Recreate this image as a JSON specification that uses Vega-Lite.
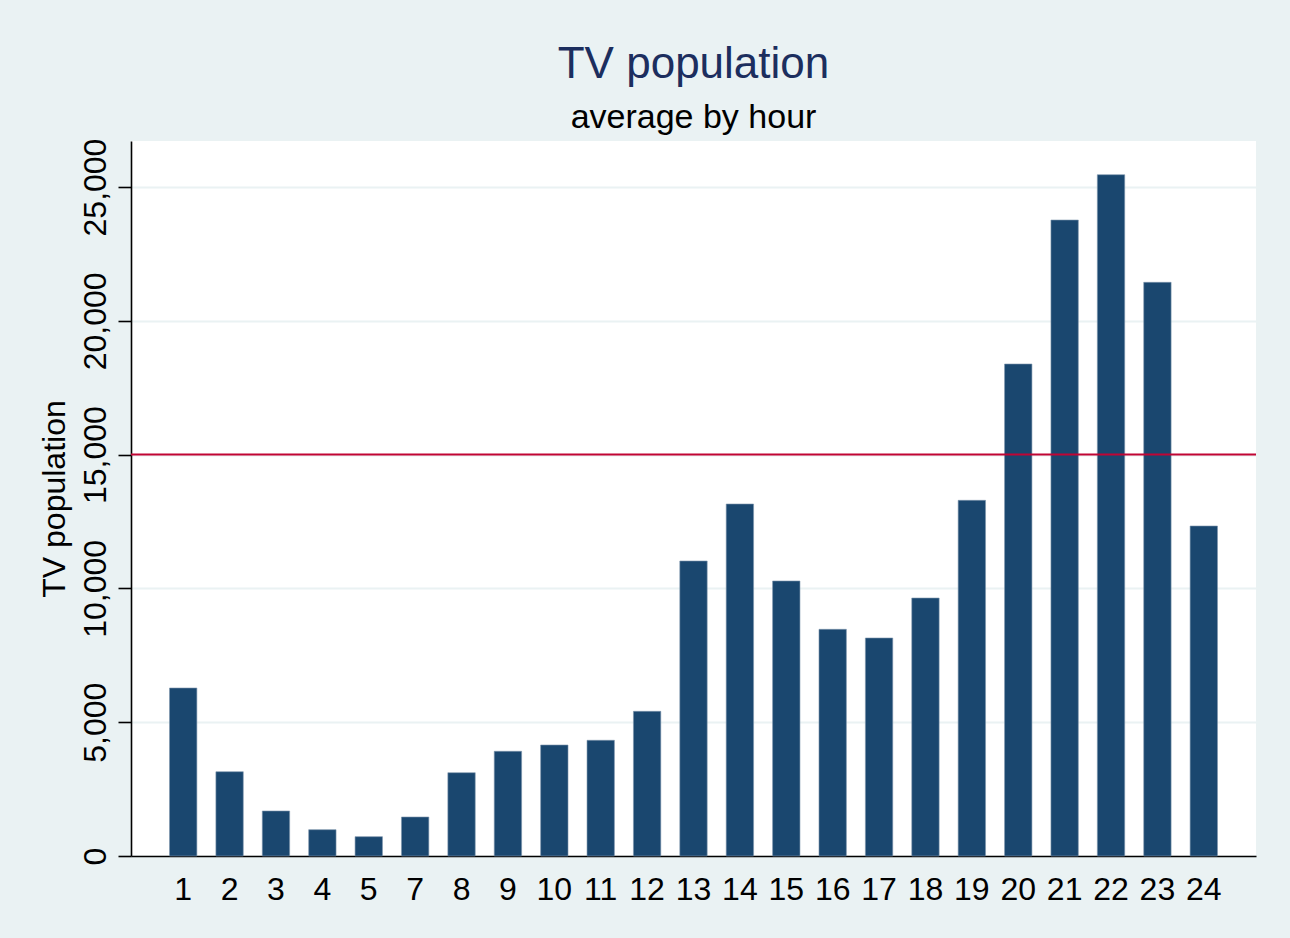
{
  "$schema": "https://vega.github.io/schema/vega-lite/v6.json",
  "autosize": {"type": "none"},
  "padding": {"left": 131, "top": 141, "right": 34, "bottom": 82},
  "width": 1125,
  "height": 715,
  "background": "#EAF2F3",
  "config": {
    "font": "Liberation Sans",
    "view": {"fill": "white", "stroke": null},
    "axis": {"labelFont": "Liberation Sans", "titleFont": "Liberation Sans"}
  },
  "title": {
    "text": "TV population",
    "subtitle": "average by hour",
    "anchor": "middle",
    "frame": "group",
    "font": "Liberation Sans",
    "fontSize": 44,
    "fontWeight": "normal",
    "color": "#1c2e5e",
    "subtitleFont": "Liberation Sans",
    "subtitleFontSize": 34,
    "subtitleColor": "#000000",
    "subtitlePadding": 14,
    "offset": 3
  },
  "layer": [
    {
      "data": {"values": [
        {"hour": 1, "pop": 6278},
        {"hour": 2, "pop": 3150},
        {"hour": 3, "pop": 1682},
        {"hour": 4, "pop": 983},
        {"hour": 5, "pop": 722},
        {"hour": 7, "pop": 1457},
        {"hour": 8, "pop": 3113},
        {"hour": 9, "pop": 3913},
        {"hour": 10, "pop": 4148},
        {"hour": 11, "pop": 4324},
        {"hour": 12, "pop": 5407},
        {"hour": 13, "pop": 11024},
        {"hour": 14, "pop": 13154},
        {"hour": 15, "pop": 10277},
        {"hour": 16, "pop": 8472},
        {"hour": 17, "pop": 8147},
        {"hour": 18, "pop": 9641},
        {"hour": 19, "pop": 13292},
        {"hour": 20, "pop": 18386},
        {"hour": 21, "pop": 23767},
        {"hour": 22, "pop": 25460},
        {"hour": 23, "pop": 21439},
        {"hour": 24, "pop": 12332}
      ]},
      "mark": {"type": "bar", "color": "#1a476f", "stroke": "#7e95ad", "strokeWidth": 0.6},
      "encoding": {
        "x": {
          "field": "hour",
          "type": "ordinal",
          "scale": {"paddingInner": 0.41, "paddingOuter": 0.83},
          "axis": {
            "title": null,
            "labelAngle": 0,
            "labelFontSize": 32,
            "labelColor": "#000000",
            "labelPadding": 18,
            "ticks": false,
            "tickSize": 0,
            "domainColor": "#000000",
            "domainWidth": 1.6,
            "grid": false
          }
        },
        "y": {
          "field": "pop",
          "type": "quantitative",
          "scale": {"domain": [0, 26720], "nice": false, "zero": true},
          "axis": {
            "title": "TV population",
            "titleFontSize": 32,
            "titleFontWeight": "normal",
            "titleColor": "#000000",
            "titlePadding": 8,
            "values": [0, 5000, 10000, 15000, 20000, 25000],
            "format": ",d",
            "labelAngle": -90,
            "labelFontSize": 32,
            "labelColor": "#000000",
            "labelPadding": 6,
            "tickSize": 13,
            "tickColor": "#000000",
            "tickWidth": 1.6,
            "domainColor": "#000000",
            "domainWidth": 1.6,
            "grid": true,
            "gridColor": "#EAF2F3",
            "gridWidth": 2.2
          }
        }
      }
    },
    {
      "data": {"values": [{"ref": 15000}]},
      "mark": {"type": "rule", "color": "#c10534", "strokeWidth": 2},
      "encoding": {
        "y": {"field": "ref", "type": "quantitative"}
      }
    }
  ]
}
